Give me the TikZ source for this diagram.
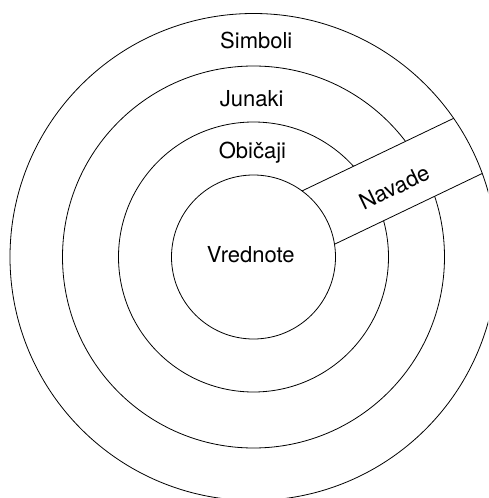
\documentclass[tikz,border=0pt]{standalone}
\usepackage{fontspec}
\setmainfont{TeX Gyre Heros}
\usetikzlibrary{calc}

\begin{document}
\begin{tikzpicture}[x=1pt,y=1pt,line width=0.8pt,
  layer/.style={font=\fontsize{22}{26}\selectfont,anchor=base,inner sep=0pt},
  ring/.style={draw}]
\useasboundingbox (-253.5,-241) rectangle (234.5,257);
\clip (-253.5,-241) rectangle (234.5,257);
\coordinate (O) at (0,0);
% band edges on the inner and outer circle
\coordinate (p1) at ($(O)+(25.6:72.35)+(115.6:38.6)$);
\coordinate (p2) at ($(O)+(25.6:240.4)+(115.6:38.6)$);
\coordinate (q1) at ($(O)+(25.6:78.56)+(115.6:-23.5)$);
\coordinate (q2) at ($(O)+(25.6:242.4)+(115.6:-23.5)$);
\draw[ring] (O) circle (135);
\draw[ring] (O) circle (191);
\fill[white] ($(O)+(25.6:60)+(115.6:38.6)$) -- ($(O)+(25.6:260)+(115.6:38.6)$)
  -- ($(O)+(25.6:260)+(115.6:-23.5)$) -- ($(O)+(25.6:60)+(115.6:-23.5)$) -- cycle;
\draw[ring] (O) circle (82);
\draw[ring] (O) circle (243.5);
\draw (p1) -- (p2);
\draw (q1) -- (q2);
\node[layer] (simboli) at (2.8,208.7) {Simboli};
\node[layer] (junaki) at (-1.8,150.7) {Junaki};
\node[layer] (obicaji) at (-1,98.7) {Običaji};
\node[layer] (vrednote) at (-2.7,-5.3) {Vrednote};
\node[layer,anchor=center,rotate=25.6] (navade) at ($(O)+(25.6:157)+(115.6:2)$) {Navade};
\end{tikzpicture}
\end{document}
